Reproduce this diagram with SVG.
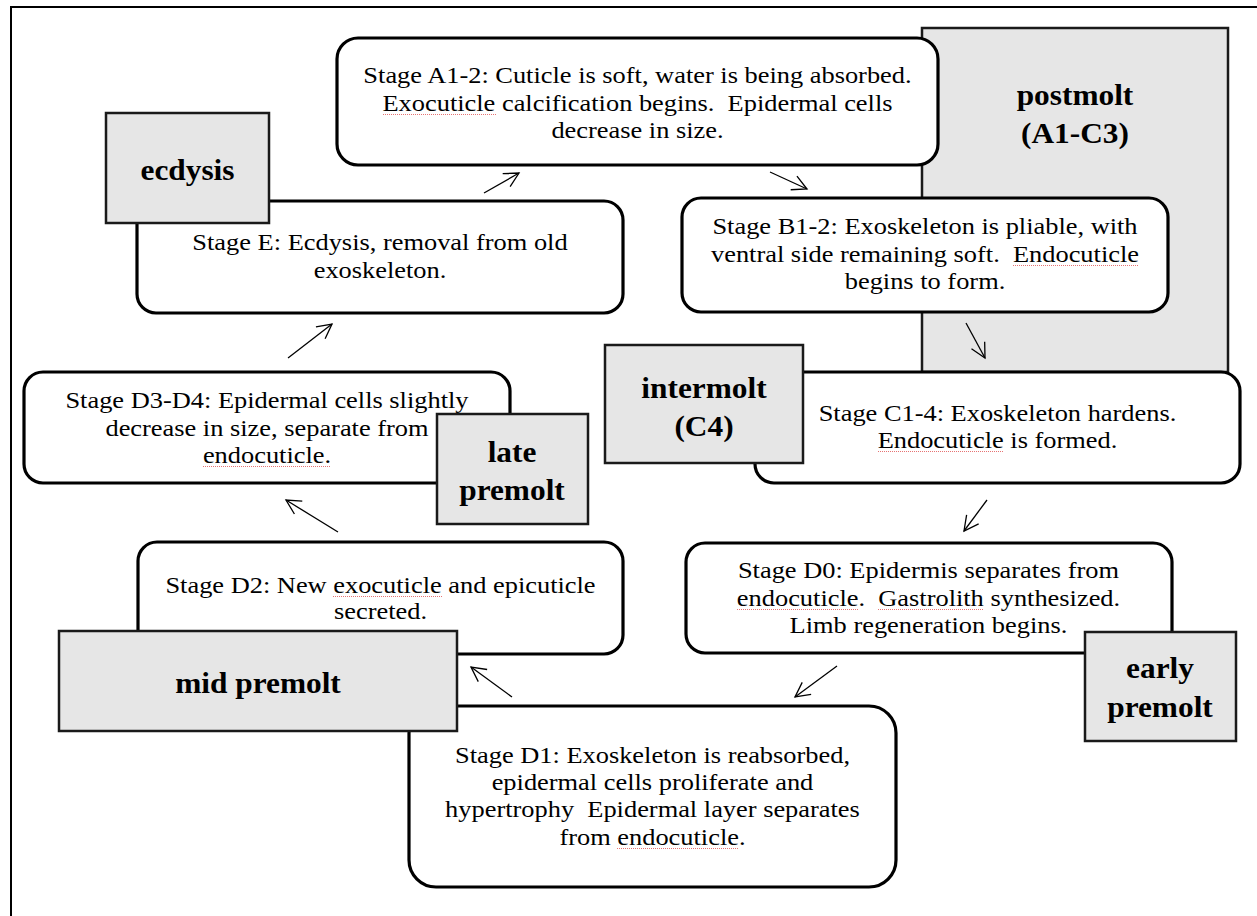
<svg xmlns="http://www.w3.org/2000/svg" width="1257" height="916" viewBox="0 0 1257 916">
<defs>
<style>
.stage{fill:#fff;stroke:#000;stroke-width:3.2}
.phase{fill:#e6e6e6;stroke:#1a1a1a;stroke-width:2.5}
.t{font-family:"Liberation Serif","Times New Roman",serif;font-size:24px;fill:#000;text-anchor:middle}
.b{font-family:"Liberation Serif","Times New Roman",serif;font-size:28.5px;font-weight:bold;fill:#000;text-anchor:middle}
.arr{stroke:#000;stroke-width:1.3;fill:none;marker-end:url(#vh)}
.sq{stroke:#e05050;stroke-width:1;stroke-dasharray:1 1;fill:none;opacity:0.8}
</style>
<marker id="vh" markerUnits="userSpaceOnUse" viewBox="-18 -10 20 20" refX="0" refY="0" markerWidth="20" markerHeight="20" orient="auto">
<path d="M-14.5,-7.5 L0,0 L-14.5,7.5" fill="none" stroke="#000" stroke-width="1.3"/>
</marker>
</defs>
<rect x="0" y="0" width="1257" height="916" fill="#fff"/>
<rect id="frame" x="11" y="7" width="1300" height="960" fill="none" stroke="#000" stroke-width="2"/>

<g id="postmolt"><rect class="phase" x="922" y="28" width="306" height="344"/>
<g transform="scale(1.1 1)"><text class="b" x="977.27" y="105">postmolt</text><text class="b" x="977.27" y="143">(A1-C3)</text></g></g>

<g id="stageA"><rect class="stage" x="337" y="38" width="601" height="127" rx="21"/>
<g transform="scale(1.1 1)"><text class="t" x="579.55" y="83">Stage A1-2: Cuticle is soft, water is being absorbed.</text><text class="t" x="579.55" y="111">Exocuticle calcification begins.&#160; Epidermal cells</text><text class="t" x="579.55" y="138">decrease in size.</text></g>
<path class="sq" d="M383,114.5 H496"/></g>

<g id="stageB"><rect class="stage" x="682" y="198" width="486" height="114" rx="19"/>
<g transform="scale(1.1 1)"><text class="t" x="840.91" y="234">Stage B1-2: Exoskeleton is pliable, with</text><text class="t" x="840.91" y="262">ventral side remaining soft.&#160; Endocuticle</text><text class="t" x="840.91" y="289">begins to form.</text></g>
<path class="sq" d="M1013,265.5 H1139"/></g>

<g id="stageE"><rect class="stage" x="137" y="201" width="486" height="112" rx="19"/>
<g transform="scale(1.1 1)"><text class="t" x="345.45" y="250">Stage E: Ecdysis, removal from old</text><text class="t" x="345.45" y="278">exoskeleton.</text></g></g>

<g id="ecdysis"><rect class="phase" x="106" y="113" width="163" height="110"/>
<g transform="scale(1.1 1)"><text class="b" x="170.45" y="180">ecdysis</text></g></g>

<g id="stageD34"><rect class="stage" x="24" y="372" width="486" height="111" rx="19"/>
<g transform="scale(1.1 1)"><text class="t" x="242.73" y="408">Stage D3-D4: Epidermal cells slightly</text><text class="t" x="242.73" y="436">decrease in size, separate from</text><text class="t" x="242.73" y="463">endocuticle.</text></g>
<path class="sq" d="M203,466.5 H331"/></g>

<g id="latepremolt"><rect class="phase" x="437" y="414" width="151" height="110"/>
<g transform="scale(1.1 1)"><text class="b" x="465.45" y="462">late</text><text class="b" x="465.45" y="500">premolt</text></g></g>

<g id="stageC"><rect class="stage" x="755" y="372" width="485" height="111" rx="19"/>
<g transform="scale(1.1 1)"><text class="t" x="906.82" y="421">Stage C1-4: Exoskeleton hardens.</text><text class="t" x="906.82" y="448">Endocuticle is formed.</text></g>
<path class="sq" d="M878,451.5 H1004"/></g>

<g id="intermolt"><rect class="phase" x="605" y="345" width="198" height="118"/>
<g transform="scale(1.1 1)"><text class="b" x="640" y="398">intermolt</text><text class="b" x="640" y="436">(C4)</text></g></g>

<g id="stageD2"><rect class="stage" x="138" y="542" width="485" height="112" rx="19"/>
<g transform="scale(1.1 1)"><text class="t" x="345.91" y="593">Stage D2: New exocuticle and epicuticle</text><text class="t" x="345.91" y="619">secreted.</text></g>
<path class="sq" d="M333,596.5 H442"/></g>

<g id="stageD0"><rect class="stage" x="686" y="543" width="486" height="110" rx="19"/>
<g transform="scale(1.1 1)"><text class="t" x="844.09" y="578">Stage D0: Epidermis separates from</text><text class="t" x="844.09" y="606">endocuticle.&#160; Gastrolith synthesized.</text><text class="t" x="844.09" y="633">Limb regeneration begins.</text></g>
<path class="sq" d="M737,609.5 H859 M878,609.5 H984"/></g>

<g id="earlypremolt"><rect class="phase" x="1085" y="632" width="151" height="109"/>
<g transform="scale(1.1 1)"><text class="b" x="1054.55" y="678">early</text><text class="b" x="1054.55" y="717">premolt</text></g></g>

<g id="stageD1"><rect class="stage" x="409" y="706" width="487" height="181" rx="27"/>
<g transform="scale(1.1 1)"><text class="t" x="593.18" y="763">Stage D1: Exoskeleton is reabsorbed,</text><text class="t" x="593.18" y="790">epidermal cells proliferate and</text><text class="t" x="593.18" y="817">hypertrophy&#160; Epidermal layer separates</text><text class="t" x="593.18" y="845">from endocuticle.</text></g>
<path class="sq" d="M617,848.5 H739"/></g>

<g id="midpremolt"><rect class="phase" x="59" y="631" width="398" height="100"/>
<g transform="scale(1.1 1)"><text class="b" x="234.55" y="693">mid premolt</text></g></g>

<g id="connectors">
<line class="arr" x1="484" y1="193" x2="519" y2="173"/>
<line class="arr" x1="770" y1="172" x2="807" y2="189"/>
<line class="arr" x1="966" y1="323" x2="985" y2="358"/>
<line class="arr" x1="987" y1="500" x2="964" y2="531"/>
<line class="arr" x1="837" y1="666" x2="795" y2="697"/>
<line class="arr" x1="512" y1="697" x2="471" y2="667"/>
<line class="arr" x1="338" y1="532" x2="286" y2="500"/>
<line class="arr" x1="288" y1="358" x2="332" y2="324"/>
</g>
</svg>
